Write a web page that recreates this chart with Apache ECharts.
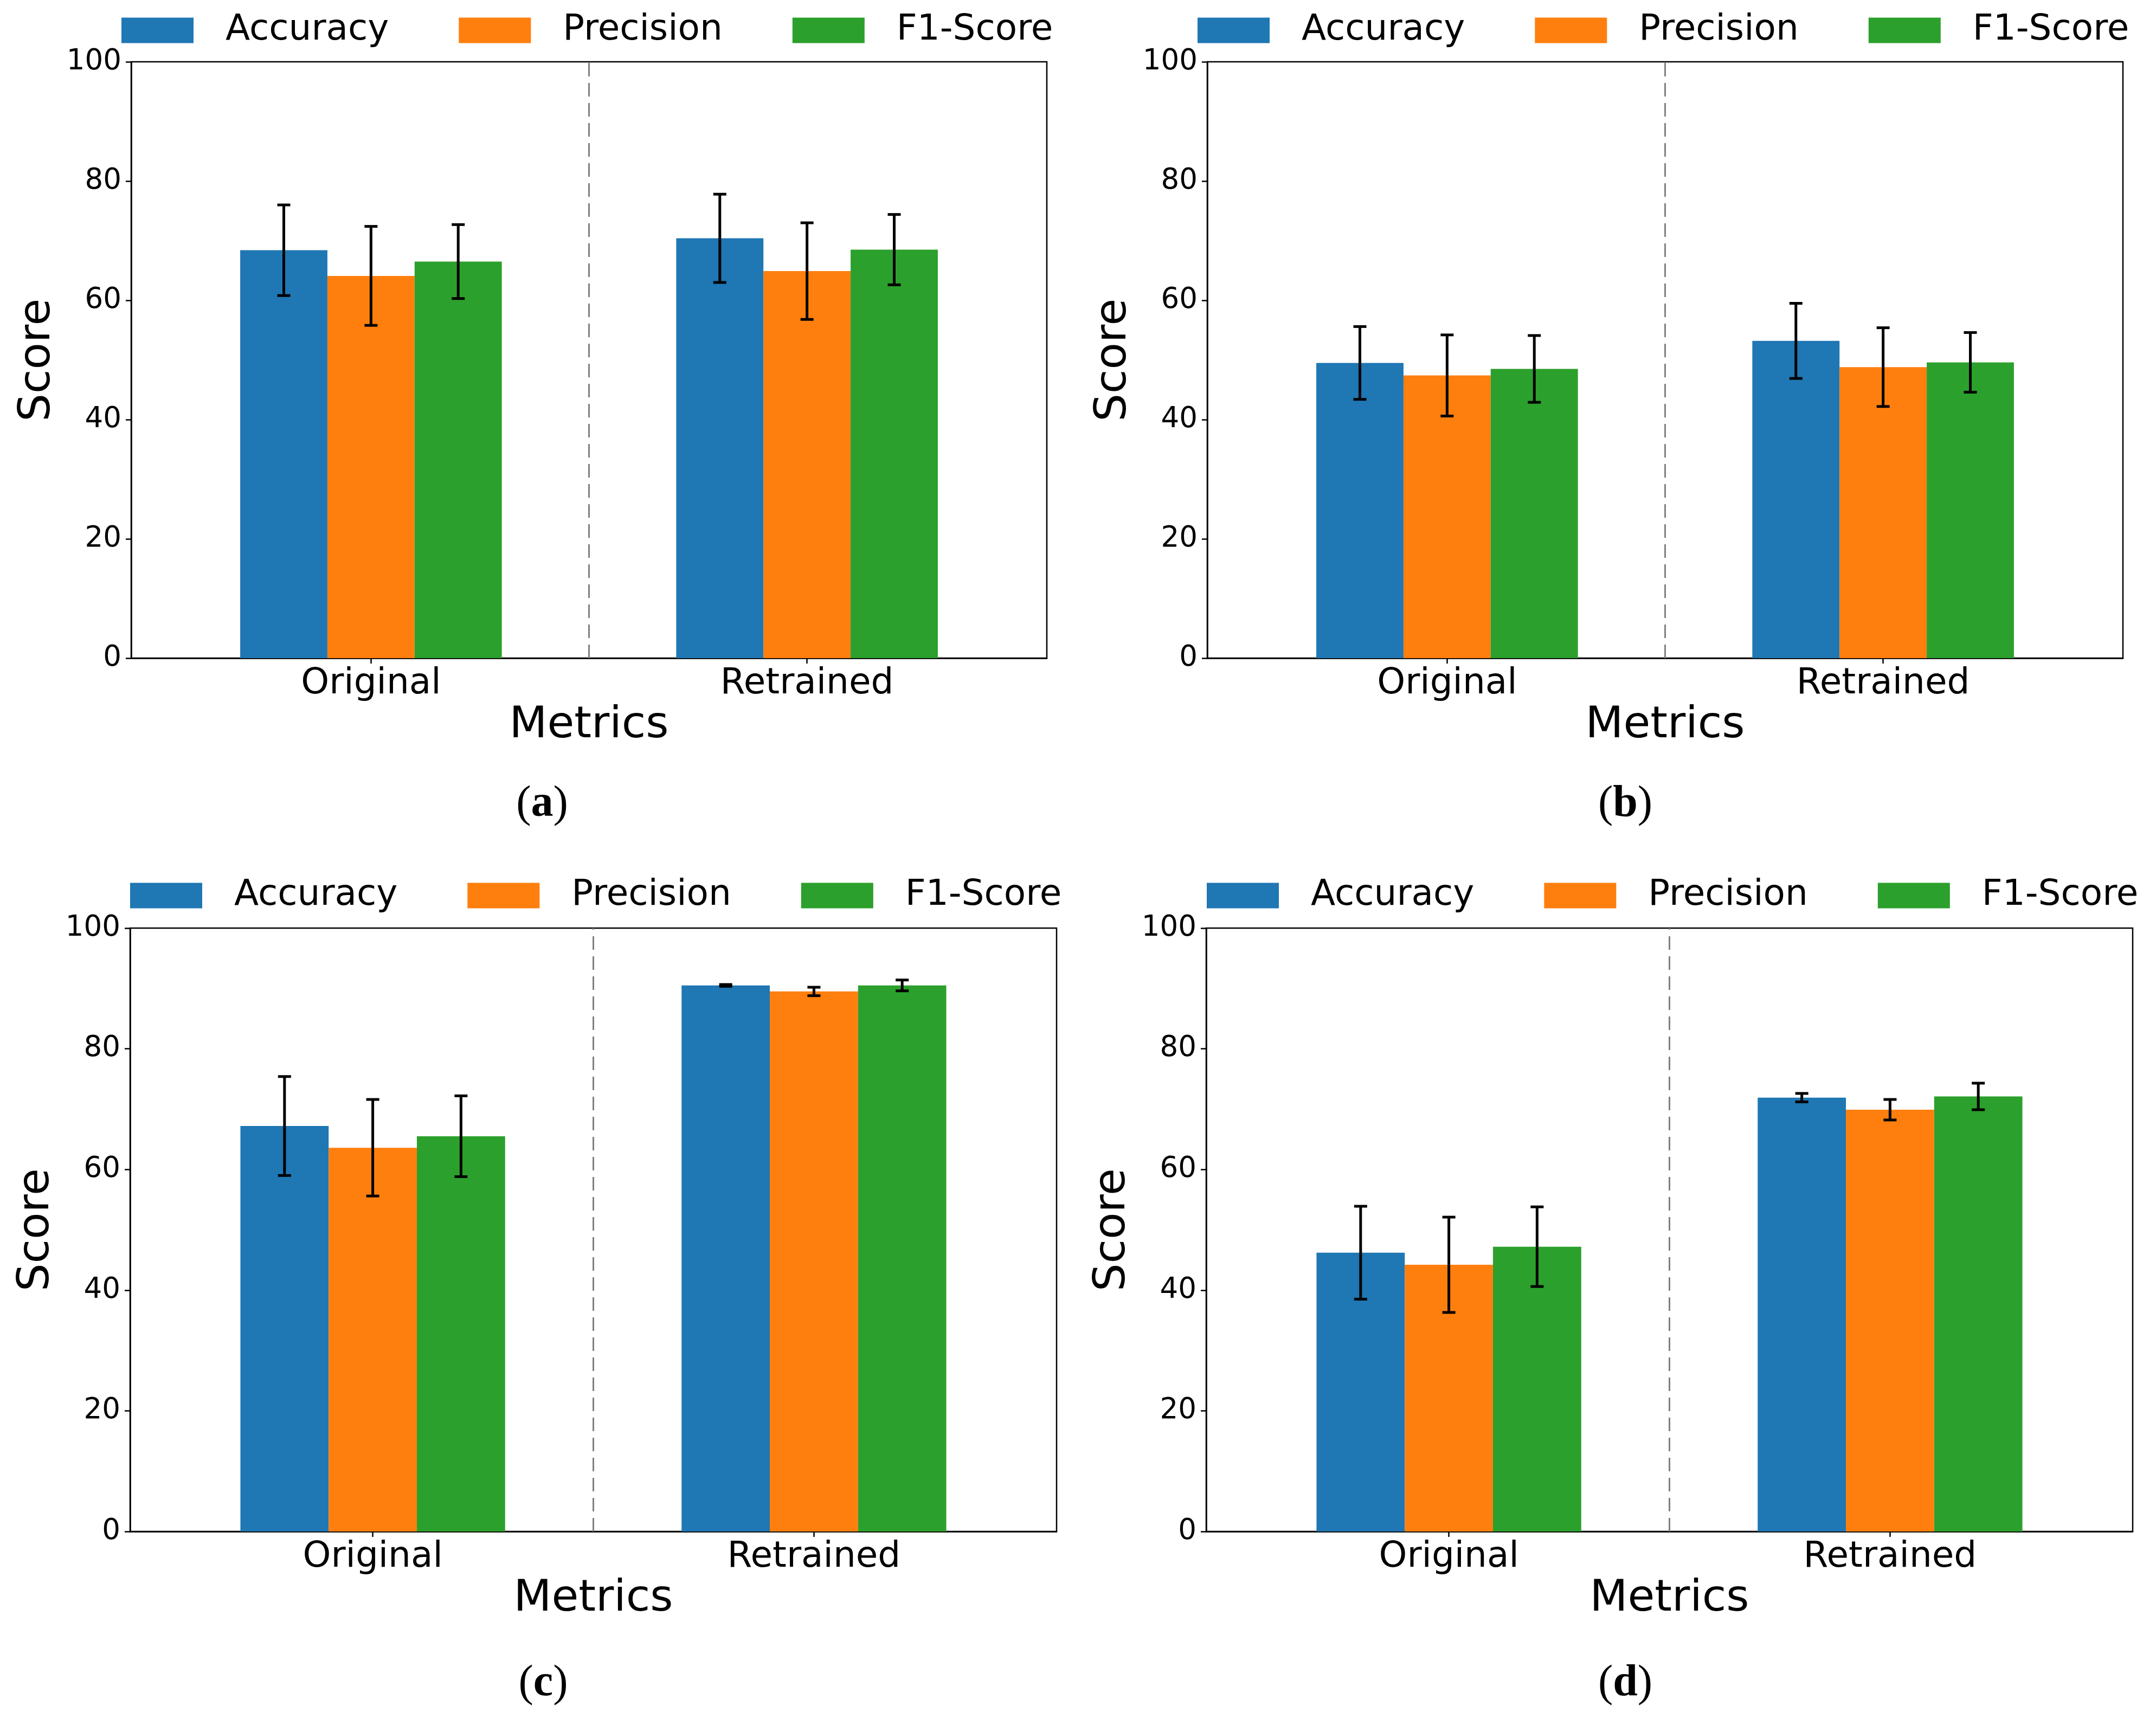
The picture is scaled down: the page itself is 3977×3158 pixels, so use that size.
<!DOCTYPE html>
<html>
<head>
<meta charset="utf-8">
<script src="https://cdn.jsdelivr.net/npm/echarts@6/dist/echarts.min.js"></script>
<style>
html,body{margin:0;padding:0;background:#fff;}
#chart{width:3977px;height:3158px;}
</style>
</head>
<body>
<div id="chart"></div>
<script>
// ---- data ----
const categories = ['Original', 'Retrained'];
const metrics = ['Accuracy', 'Precision', 'F1-Score'];
const yTicks = [0, 20, 40, 60, 80, 100];
const panelLetters = ['a', 'b', 'c', 'd'];
const dividerAt = 0.5;

// rows: Accuracy, Precision, F1-Score ; columns: Original, Retrained
const meansA = [[68.4, 70.4], [64.1, 64.9], [66.5, 68.5]];
const errsA  = [[7.6, 7.4],   [8.3, 8.1],   [6.2, 5.9]];
const meansB = [[49.5, 53.2], [47.4, 48.8], [48.5, 49.6]];
const errsB  = [[6.1, 6.3],   [6.8, 6.6],   [5.6, 5.0]];
const meansC = [[67.2, 90.5], [63.6, 89.5], [65.5, 90.5]];
const errsC  = [[8.2, 0.15],  [8.0, 0.7],   [6.7, 0.9]];
const meansD = [[46.2, 71.9], [44.2, 69.9], [47.2, 72.1]];
const errsD  = [[7.7, 0.7],   [7.9, 1.7],   [6.6, 2.2]];

const panelMeans = [meansA, meansB, meansC, meansD];
const panelErrs = [errsA, errsB, errsC, errsD];

// ---- style / layout ----
const colors = ['#1f77b4', '#ff7f0e', '#2ca02c'];
const FONT = 'DejaVu Sans';
const offsets = [-0.2, 0, 0.2];
const barW = 0.2;
const layouts = [
  {left: 242,  top: 114,  width: 1689, height: 1100, legendLeft: 224,  legendY: 46.5,   cap: [1000, 1484]},
  {left: 2227, top: 114,  width: 1689, height: 1100, legendLeft: 2209, legendY: 46.5,   cap: [2998, 1484]},
  {left: 240,  top: 1712, width: 1709, height: 1113, legendLeft: 240,  legendY: 1642.5, cap: [1002, 3106]},
  {left: 2225, top: 1712, width: 1709, height: 1113, legendLeft: 2226, legendY: 1642.5, cap: [2998, 3106]}
];

function makeRender(mi) {
  return function (params, api) {
    const xc = api.value(0) + offsets[mi];
    const v = api.value(1), e = api.value(2);
    const p0 = api.coord([xc - barW / 2, 0]);
    const p1 = api.coord([xc + barW / 2, v]);
    const top = api.coord([xc, v + e]);
    const bot = api.coord([xc, v - e]);
    const capHalf = 12;
    const lineStyle = {stroke: '#000', lineWidth: 5};
    return {
      type: 'group',
      children: [
        {type: 'rect', shape: {x: p0[0], y: p1[1], width: p1[0] - p0[0], height: p0[1] - p1[1]},
         style: {fill: colors[mi]}},
        {type: 'line', shape: {x1: top[0], y1: top[1], x2: bot[0], y2: bot[1]}, style: lineStyle, z2: 10},
        {type: 'line', shape: {x1: top[0] - capHalf, y1: top[1], x2: top[0] + capHalf, y2: top[1]}, style: lineStyle, z2: 10},
        {type: 'line', shape: {x1: bot[0] - capHalf, y1: bot[1], x2: bot[0] + capHalf, y2: bot[1]}, style: lineStyle, z2: 10}
      ]
    };
  };
}

const grids = [], xAxes = [], yAxes = [], legends = [], series = [], graphics = [];
layouts.forEach((L, p) => {
  grids.push({left: L.left, top: L.top, width: L.width, height: L.height,
    show: true, borderColor: '#000', borderWidth: 2.5, backgroundColor: 'transparent',
    containLabel: false, outerBoundsMode: 'none'});
  xAxes.push({
    gridIndex: p, type: 'value', min: -0.55, max: 1.55,
    splitLine: {show: false},
    axisLine: {show: true, onZero: false, lineStyle: {color: '#000', width: 2.5}},
    axisTick: {show: true, length: 10, customValues: [0, 1], lineStyle: {color: '#000', width: 2.5}},
    axisLabel: {customValues: [0, 1], formatter: v => categories[Math.round(v)] || '',
      fontFamily: FONT, fontSize: 66, color: '#000', margin: 15},
    name: 'Metrics', nameLocation: 'middle', nameGap: 84,
    nameTextStyle: {fontFamily: FONT, fontSize: 81, color: '#000'}
  });
  yAxes.push({
    gridIndex: p, type: 'value', min: 0, max: 100, interval: 20,
    splitLine: {show: false},
    axisLine: {show: true, onZero: false, lineStyle: {color: '#000', width: 2.5}},
    axisTick: {show: true, length: 10, customValues: yTicks, lineStyle: {color: '#000', width: 2.5}},
    axisLabel: {customValues: yTicks, fontFamily: FONT, fontSize: 53, color: '#000', margin: 18},
    name: 'Score', nameLocation: 'middle', nameGap: 132,
    nameTextStyle: {fontFamily: FONT, fontSize: 81, color: '#000'}
  });
  legends.push({
    left: L.legendLeft, top: L.legendY - 23.5, orient: 'horizontal', padding: 0,
    itemWidth: 133, itemHeight: 47, itemGap: 129, icon: 'rect',
    textStyle: {fontFamily: FONT, fontSize: 66, color: '#000', lineHeight: 47, padding: [0, 0, 0, 54]},
    data: metrics.slice(), selectedMode: false
  });
  metrics.forEach((m, mi) => {
    const ser = {
      type: 'custom', name: m, xAxisIndex: p, yAxisIndex: p,
      itemStyle: {color: colors[mi]},
      encode: {x: 0, y: 1},
      data: categories.map((c, ci) => [ci, panelMeans[p][mi][ci], panelErrs[p][mi][ci]]),
      renderItem: makeRender(mi),
      animation: false
    };
    if (mi === 0) {
      ser.markLine = {
        silent: true, symbol: 'none', animation: false,
        label: {show: false},
        lineStyle: {color: '#808080', type: [25, 12], width: 3},
        data: [{xAxis: dividerAt}]
      };
    }
    series.push(ser);
  });
  graphics.push({
    type: 'text', x: L.cap[0], y: L.cap[1],
    style: {
      text: '{p|(}{b|' + panelLetters[p] + '}{p|)}',
      align: 'center', verticalAlign: 'middle', fill: '#000',
      rich: {
        p: {fontFamily: 'Liberation Serif', fontWeight: 'normal', fontSize: 82, fill: '#000'},
        b: {fontFamily: 'Liberation Serif', fontWeight: 'bold', fontSize: 82, fill: '#000'}
      }
    }
  });
});

const chart = echarts.init(document.getElementById('chart'), null, {renderer: 'canvas'});
chart.setOption({
  animation: false,
  backgroundColor: '#fff',
  grid: grids, xAxis: xAxes, yAxis: yAxes, legend: legends, series: series,
  graphic: graphics
});
</script>
</body>
</html>
